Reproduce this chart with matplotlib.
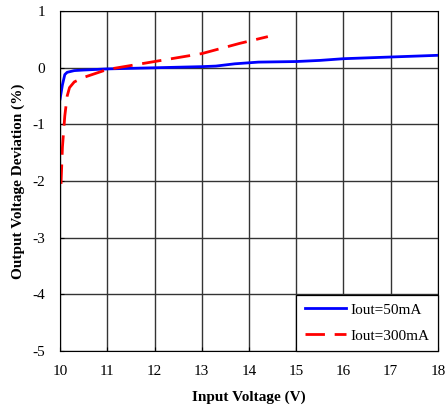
import numpy as np
import matplotlib.pyplot as plt

plt.rcParams['font.family'] = ['Liberation Serif', 'DejaVu Serif']

# Данные
vin_50 = [10.0, 10.05, 10.1, 10.15, 10.3, 10.5, 11.0, 12.0, 13.0, 13.3, 13.7, 14.2, 15.0, 15.5, 16.0, 17.0, 18.0]
dev_50 = [-0.55, -0.3, -0.12, -0.08, -0.05, -0.04, -0.02, 0.0, 0.02, 0.03, 0.07, 0.1, 0.11, 0.13, 0.16, 0.19, 0.22]

vin_300 = [10.02, 10.05, 10.1, 10.15, 10.2, 10.3, 10.5, 11.0, 12.0, 13.0, 13.8, 14.4]
dev_300 = [-2.05, -1.4, -0.85, -0.5, -0.35, -0.25, -0.17, -0.03, 0.11, 0.25, 0.43, 0.55]

fig = plt.figure(figsize=(4.45, 4.12), dpi=100)
ax = fig.add_axes([0.135, 0.148, 0.849, 0.825])

ax.plot(vin_50, dev_50, color='#0000ff', lw=2.0, label='Iout=50mA')
ax.plot(vin_300, dev_300, color='#ff0000', lw=2.0, dashes=(7, 3.5), label='Iout=300mA')

ax.set_xlim(10, 18)
ax.set_ylim(-5, 1)
ax.set_xticks(range(10, 19))
ax.set_yticks(range(-5, 2))
ax.grid(True, color='#333333', lw=1.0)
ax.tick_params(direction='in', length=3, labelsize=11)
ax.tick_params(axis='x', pad=10)
ax.tick_params(axis='y', pad=11)
ax.set_yticklabels(['-5', '-4', '-3', '-2', '-1', '0', '1'])

ax.set_xlabel('Input Voltage (V)', fontsize=11, fontweight='bold', labelpad=9)
ax.set_ylabel('Output Voltage Deviation (%)', fontsize=11, fontweight='bold', labelpad=5)

leg = ax.legend(loc='lower right', borderaxespad=0, fancybox=False, fontsize=11,
                handlelength=2.7, labelspacing=0.8, borderpad=0.55, handletextpad=0.3)
leg.get_frame().set_edgecolor('black')
leg.get_frame().set_linewidth(0.9)
leg.get_frame().set_alpha(1)

plt.savefig('out.png', dpi=100)
